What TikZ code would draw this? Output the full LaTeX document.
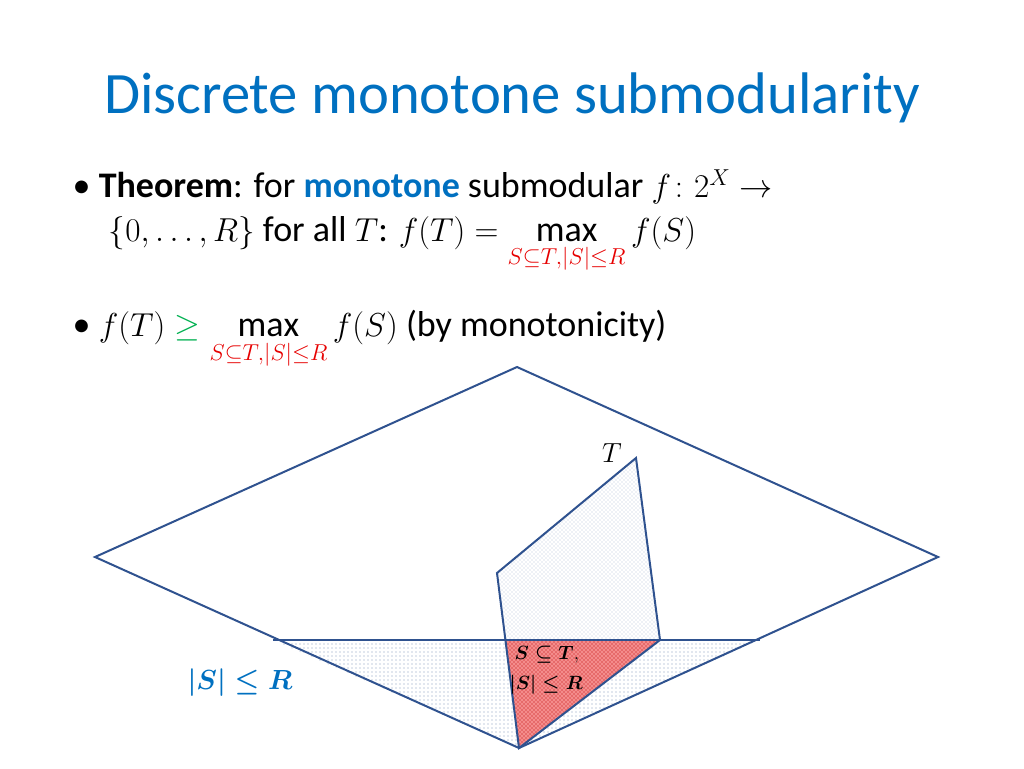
\documentclass[tikz,border=0pt]{standalone}
\usepackage{amsmath,amssymb}
\usepackage{fontspec}
\setmainfont{Carlito}
\usetikzlibrary{patterns}
\definecolor{titleblue}{RGB}{0,112,192}
\definecolor{edgeblue}{RGB}{47,82,143}
\definecolor{setred}{RGB}{230,0,0}
\definecolor{geqgreen}{RGB}{0,176,80}
\tikzset{
  edge/.style={draw=edgeblue, line width=1.5pt},
  bodytext/.style={anchor=west, font=\fontsize{27}{31}\selectfont}
}
\begin{document}
\begin{tikzpicture}[x=0.75pt, y=-0.75pt]
        \useasboundingbox (0,0) rectangle (1024,768);

        % Title and bullets
        \node[anchor=center, text=titleblue, font=\fontsize{44}{48}\selectfont] (title) at (512,98) {Discrete monotone submodularity};
        \node[bodytext] (thm1) at (68,187) {\textbullet\ \textbf{Theorem}: for \textcolor{titleblue}{\textbf{monotone}} submodular $f\colon 2^X\to$};
        \node[bodytext] (thm2) at (104,245) {$\{0,\dots,R\}$ for all $T$: $f(T)=\max\limits_{\textcolor{setred}{S\subseteq T,|S|\le R}} f(S)$};
        \node[bodytext] (mono) at (68,340) {\textbullet\ $f(T)\mathrel{\textcolor{geqgreen}{\ge}}\max\limits_{\textcolor{setred}{S\subseteq T,|S|\le R}} f(S)$ (by monotonicity)};

        % Named corners
        \coordinate (top) at (517,367);
        \coordinate (left) at (95,557);
        \coordinate (right) at (938,557);
        \coordinate (bot) at (519,748);
        \coordinate (ta) at (497,573);
        \coordinate (tb) at (636,458);
        \coordinate (tc) at (660,640);
        \coordinate (sl) at (273,640);
        \coordinate (sr) at (760,640);
        \coordinate (tl) at (505,640);

        % Small sets triangle
        \fill[pattern=dots, pattern color=edgeblue!60] (sl) -- (sr) -- (bot) -- cycle;
        % Set T
        \fill[pattern=crosshatch dots, pattern color=edgeblue!35] (ta) -- (tb) -- (tc) -- (bot) -- cycle;
        % Intersection
        \fill[setred!45] (tl) -- (tc) -- (bot) -- cycle;
        \fill[pattern=crosshatch dots, pattern color=setred!80!black] (tl) -- (tc) -- (bot) -- cycle;

        \draw[edgeblue, line width=1pt] (sl) -- (sr);
        \draw[edge] (ta) -- (tb) -- (tc) -- (bot) -- cycle;
        \draw[edge] (top) -- (right) -- (bot) -- (left) -- cycle;

        % Labels
        \node (tlabel) at (612,453) {\fontsize{20}{24}\selectfont $T$};
        \node[text=titleblue] (small) at (240,683) {\fontsize{20}{24}\selectfont $\boldsymbol{|S|\le R}$};
        \node[anchor=west] (inter1) at (510,655) {\fontsize{15}{18}\selectfont $\boldsymbol{S\subseteq T},$};
        \node[anchor=west] (inter2) at (505,685) {\fontsize{15}{18}\selectfont $\boldsymbol{|S|\le R}$};
      \end{tikzpicture}
\end{document}
